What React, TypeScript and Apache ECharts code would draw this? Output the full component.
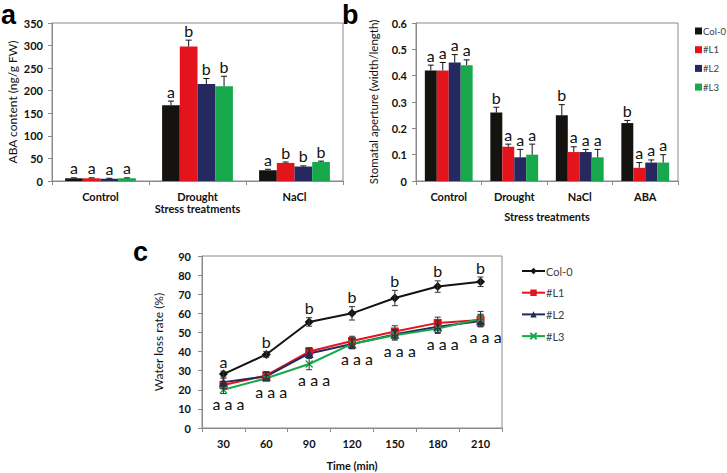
import React, { useEffect, useRef } from "react";
import * as echarts from "echarts";

// ---------- Data ----------
const categoriesA = ["Control", "Drought", "NaCl"];
const abaCol0 = [6, 168, 24];
const abaL1 = [6, 298, 40];
const abaL2 = [5, 215, 32];
const abaL3 = [6, 210, 42];
const abaErrCol0 = [1, 9, 2];
const abaErrL1 = [1, 14, 2];
const abaErrL2 = [1, 12, 1.5];
const abaErrL3 = [1, 22, 2];
const abaLetCol0 = ["a", "a", "a"];
const abaLetL1 = ["a", "b", "b"];
const abaLetL2 = ["a", "b", "b"];
const abaLetL3 = ["a", "b", "b"];

const categoriesB = ["Control", "Drought", "NaCl", "ABA"];
const apCol0 = [0.42, 0.26, 0.25, 0.22];
const apL1 = [0.42, 0.13, 0.11, 0.05];
const apL2 = [0.45, 0.09, 0.11, 0.07];
const apL3 = [0.44, 0.1, 0.09, 0.07];
const apErrCol0 = [0.02, 0.02, 0.04, 0.01];
const apErrL1 = [0.03, 0.01, 0.02, 0.02];
const apErrL2 = [0.03, 0.03, 0.01, 0.01];
const apErrL3 = [0.02, 0.04, 0.03, 0.03];
const apLetCol0 = ["a", "b", "b", "b"];
const apLetL1 = ["a", "a", "a", "a"];
const apLetL2 = ["a", "a", "a", "a"];
const apLetL3 = ["a", "a", "a", "a"];

const times = ["30", "60", "90", "120", "150", "180", "210"];
const wlCol0 = [28.2, 38.5, 55.5, 60, 68, 74, 76.5];
const wlL1 = [22.5, 27.5, 40, 45.5, 50.5, 55, 56.5];
const wlL2 = [24, 27, 39, 44, 49, 53, 56];
const wlL3 = [20, 26, 33.5, 44, 48.5, 52, 57];
const wlErrCol0 = [1.5, 1.5, 2.2, 3.5, 4, 3, 2.5];
const wlErrL1 = [2, 2, 2, 2.5, 3, 3, 3];
const wlErrL2 = [2, 2, 2.5, 2.5, 2.5, 3, 3];
const wlErrL3 = [2, 1.5, 3, 2.5, 2.5, 2.5, 4];
const wlLetCol0 = ["a", "b", "b", "b", "b", "b", "b"];
const wlLetL1 = ["a", "a", "a", "a", "a", "a", "a"];
const wlLetL2 = ["a", "a", "a", "a", "a", "a", "a"];
const wlLetL3 = ["a", "a", "a", "a", "a", "a", "a"];

const names = ["Col-0", "#L1", "#L2", "#L3"];
const colors = ["#15130f", "#e3141c", "#25295f", "#16a84b"];

// ---------- Styles ----------
const FONT = "Lato";
const AXIS_COLOR = "#8a8a8a";
const GAP = 0.27;

function barErr(
  idx: number,
  axis: number,
  values: number[],
  errs: number[],
  letters: string[]
) {
  return {
    type: "custom",
    name: "err" + axis + "-" + idx,
    xAxisIndex: axis,
    yAxisIndex: axis,
    z: 5,
    silent: true,
    clip: false,
    data: values.map((v, i) => [i, v, errs[i]]),
    encode: { x: 0, y: 1 },
    renderItem: (params: any, api: any) => {
      const c = api.value(0);
      const v = api.value(1);
      const e = api.value(2);
      const band = api.size([1, 0])[0];
      const w = (band * (1 - GAP)) / 4;
      const p = api.coord([c, v]);
      const t = api.coord([c, v + e]);
      const x = p[0] + (idx - 1.5) * w;
      return {
        type: "group",
        children: [
          { type: "line", shape: { x1: x, y1: p[1], x2: x, y2: t[1] }, style: { stroke: "#111", lineWidth: 1 } },
          { type: "line", shape: { x1: x - 3, y1: t[1], x2: x + 3, y2: t[1] }, style: { stroke: "#111", lineWidth: 1 } },
          {
            type: "text",
            x,
            y: t[1] - 2,
            style: {
              text: letters[params.dataIndex],
              fill: "#111",
              fontFamily: FONT,
              fontSize: 16,
              align: "center",
              verticalAlign: "bottom",
            },
          },
        ],
      };
    },
  };
}

function lineErr(idx: number, values: number[], errs: number[]) {
  return {
    type: "custom",
    name: "lerr-" + idx,
    xAxisIndex: 2,
    yAxisIndex: 2,
    z: 6,
    silent: true,
    clip: false,
    data: values.map((v, i) => [i, v, errs[i]]),
    encode: { x: 0, y: 1 },
    renderItem: (params: any, api: any) => {
      const c = api.value(0);
      const v = api.value(1);
      const e = api.value(2);
      const hi = api.coord([c, v + e]);
      const lo = api.coord([c, v - e]);
      const x = hi[0];
      const st = { stroke: "#333", lineWidth: 1 };
      return {
        type: "group",
        children: [
          { type: "line", shape: { x1: x, y1: hi[1], x2: x, y2: lo[1] }, style: st },
          { type: "line", shape: { x1: x - 3, y1: hi[1], x2: x + 3, y2: hi[1] }, style: st },
          { type: "line", shape: { x1: x - 3, y1: lo[1], x2: x + 3, y2: lo[1] }, style: st },
        ],
      };
    },
  };
}

function lineLetters() {
  return {
    type: "custom",
    name: "letters-c",
    xAxisIndex: 2,
    yAxisIndex: 2,
    z: 7,
    silent: true,
    clip: false,
    data: times.map((_, i) => [i, wlCol0[i]]),
    encode: { x: 0, y: 1 },
    renderItem: (params: any, api: any) => {
      const i = params.dataIndex;
      const top = api.coord([i, wlCol0[i] + wlErrCol0[i]]);
      const mins = [wlL1[i] - wlErrL1[i], wlL2[i] - wlErrL2[i], wlL3[i] - wlErrL3[i]];
      const minV = Math.min(...mins);
      const bot = api.coord([i, minV]);
      const txt = [wlLetL1[i], wlLetL2[i], wlLetL3[i]].join(" ");
      const base = { fill: "#111", fontFamily: FONT, fontSize: 16, align: "center" };
      return {
        type: "group",
        children: [
          { type: "text", x: top[0], y: top[1] - 2, style: { ...base, text: wlLetCol0[i], verticalAlign: "bottom" } },
          { type: "text", x: bot[0] + 5, y: bot[1] + 2, style: { ...base, text: txt, verticalAlign: "top" } },
        ],
      };
    },
  };
}

const tickLabel = { color: "#111", fontFamily: FONT, fontWeight: "bold", fontSize: 11 };
const axisLine = { show: true, lineStyle: { color: AXIS_COLOR, width: 1 } };
const axisTick = { show: true, inside: false, length: 4, lineStyle: { color: AXIS_COLOR } };

export default function App() {
  const ref = useRef<HTMLDivElement>(null);
  useEffect(() => {
    if (!ref.current) return;
    const chart = echarts.init(ref.current, undefined, { renderer: "svg" });
    const barA = [abaCol0, abaL1, abaL2, abaL3];
    const errA = [abaErrCol0, abaErrL1, abaErrL2, abaErrL3];
    const letA = [abaLetCol0, abaLetL1, abaLetL2, abaLetL3];
    const barB = [apCol0, apL1, apL2, apL3];
    const errB = [apErrCol0, apErrL1, apErrL2, apErrL3];
    const letB = [apLetCol0, apLetL1, apLetL2, apLetL3];
    const wl = [wlCol0, wlL1, wlL2, wlL3];
    const wlErr = [wlErrCol0, wlErrL1, wlErrL2, wlErrL3];
    const symbols = [
      "diamond",
      "rect",
      "triangle",
      "path://M0,0L10,10M10,0L0,10",
    ];
    const symSizes = [9, 8, 9, 7];

    const series: any[] = [];
    barA.forEach((d, i) =>
      series.push({
        type: "bar",
        name: names[i],
        xAxisIndex: 0,
        yAxisIndex: 0,
        data: d,
        barGap: "0%",
        barCategoryGap: GAP * 100 + "%",
        itemStyle: { color: colors[i] },
      })
    );
    barB.forEach((d, i) =>
      series.push({
        type: "bar",
        name: names[i],
        xAxisIndex: 1,
        yAxisIndex: 1,
        data: d,
        barGap: "0%",
        barCategoryGap: GAP * 100 + "%",
        itemStyle: { color: colors[i] },
      })
    );
    barA.forEach((d, i) => series.push(barErr(i, 0, d, errA[i], letA[i])));
    barB.forEach((d, i) => series.push(barErr(i, 1, d, errB[i], letB[i])));
    wl.forEach((d, i) =>
      series.push({
        type: "line",
        name: names[i] + " ",
        xAxisIndex: 2,
        yAxisIndex: 2,
        data: d,
        symbol: symbols[i],
        symbolSize: symSizes[i],
        showAllSymbol: true,
        lineStyle: { color: colors[i], width: 2 },
        itemStyle:
          i === 3
            ? { color: colors[i], borderColor: colors[i], borderWidth: 1.3 }
            : { color: colors[i], borderWidth: 0 },
        z: 3,
      })
    );
    wl.forEach((d, i) => series.push(lineErr(i, d, wlErr[i])));
    series.push(lineLetters());

    const option: any = {
      animation: false,
      backgroundColor: "#ffffff",
      textStyle: { fontFamily: FONT },
      grid: [
        { left: 52, top: 23, width: 291, height: 158, show: true, borderColor: AXIS_COLOR, borderWidth: 1, backgroundColor: "transparent" },
        { left: 416, top: 23, width: 262, height: 158, show: true, borderColor: AXIS_COLOR, borderWidth: 1, backgroundColor: "transparent" },
        { left: 202, top: 256, width: 300, height: 172, show: true, borderColor: AXIS_COLOR, borderWidth: 1, backgroundColor: "transparent" },
      ],
      xAxis: [
        {
          type: "category",
          gridIndex: 0,
          data: categoriesA,
          axisLine,
          axisTick: { ...axisTick, interval: 0 },
          axisLabel: { ...tickLabel, margin: 10, interval: 0 },
          name: "Stress treatments",
          nameLocation: "middle",
          nameGap: 21,
          nameTextStyle: { ...tickLabel },
        },
        {
          type: "category",
          gridIndex: 1,
          data: categoriesB,
          axisLine,
          axisTick: { ...axisTick, interval: 0 },
          axisLabel: { ...tickLabel, margin: 10, interval: 0 },
          name: "Stress treatments",
          nameLocation: "middle",
          nameGap: 30,
          nameTextStyle: { ...tickLabel },
        },
        {
          type: "category",
          gridIndex: 2,
          data: times,
          boundaryGap: true,
          axisLine,
          axisTick: { ...axisTick, interval: 0 },
          axisLabel: { ...tickLabel, margin: 10, interval: 0 },
          name: "Time (min)",
          nameLocation: "middle",
          nameGap: 32,
          nameTextStyle: { ...tickLabel },
        },
      ],
      yAxis: [
        {
          type: "value",
          gridIndex: 0,
          min: 0,
          max: 350,
          interval: 50,
          axisLine,
          axisTick,
          splitLine: { show: false },
          axisLabel: { ...tickLabel, margin: 9 },
          name: "ABA content (ng/g FW)",
          nameLocation: "middle",
          nameGap: 34,
          nameTextStyle: { color: "#111", fontFamily: FONT, fontSize: 12 },
        },
        {
          type: "value",
          gridIndex: 1,
          min: 0,
          max: 0.6,
          interval: 0.1,
          axisLine,
          axisTick,
          splitLine: { show: false },
          axisLabel: {
            ...tickLabel,
            margin: 9,
            formatter: (v: number) => (v === 0 ? "0" : v.toFixed(1)),
          },
          name: "Stomatal aperture (width/length)",
          nameLocation: "middle",
          nameGap: 37,
          nameTextStyle: { color: "#111", fontFamily: FONT, fontSize: 11.5 },
        },
        {
          type: "value",
          gridIndex: 2,
          min: 0,
          max: 90,
          interval: 10,
          axisLine,
          axisTick,
          splitLine: { show: false },
          axisLabel: { ...tickLabel, margin: 11 },
          name: "Water loss rate (%)",
          nameLocation: "middle",
          nameGap: 38,
          nameTextStyle: { color: "#111", fontFamily: FONT, fontSize: 12 },
        },
      ],
      legend: [
        {
          orient: "vertical",
          left: 690,
          top: 20,
          itemWidth: 7,
          itemHeight: 7,
          itemGap: 6.7,
          icon: "rect",
          data: names,
          selectedMode: false,
          textStyle: { color: "#404040", fontFamily: FONT, fontSize: 9.5, lineHeight: 12, padding: [0, 0, 0, -4] },
        },
        {
          orient: "vertical",
          left: 516,
          top: 260,
          itemWidth: 23,
          itemHeight: 8,
          itemGap: 9.7,
          data: names.map((n) => n + " "),
          selectedMode: false,
          formatter: (n: string) => n.trim(),
          textStyle: { color: "#404040", fontFamily: FONT, fontSize: 11, lineHeight: 12, padding: [0, 0, 0, -4] },
        },
      ],
      graphic: [
        { type: "text", x: 1, y: 1, style: { text: "a", fill: "#000", font: 'bold 27px "Liberation Sans"', verticalAlign: "top" } },
        { type: "text", x: 342, y: 1, style: { text: "b", fill: "#000", font: 'bold 27px "Liberation Sans"', verticalAlign: "top" } },
        { type: "text", x: 133, y: 238, style: { text: "c", fill: "#000", font: 'bold 27px "Liberation Sans"', verticalAlign: "top" } },
      ],
      series,
    };
    chart.setOption(option);
    return () => chart.dispose();
  }, []);
  return (
    <div
      ref={ref}
      style={{ position: "fixed", left: 0, top: 0, width: 727, height: 473, background: "#fff" }}
    />
  );
}
